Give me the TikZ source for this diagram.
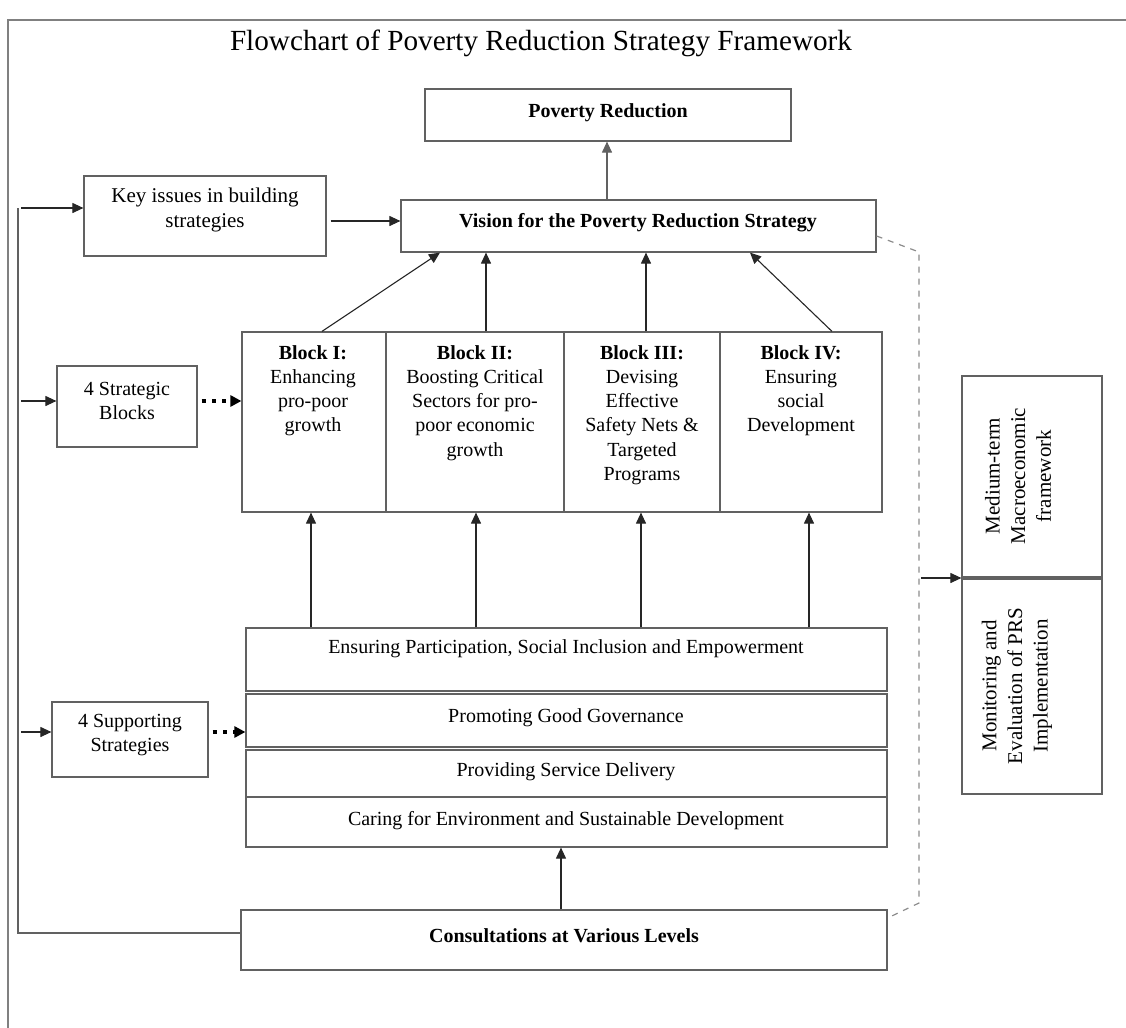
\documentclass[tikz,border=0pt]{standalone}
\usepackage{fontspec}
\setmainfont{Liberation Serif}
\usetikzlibrary{arrows.meta,fit,calc}
\definecolor{boxgray}{rgb}{0.38,0.38,0.38}
\definecolor{framegray}{rgb}{0.5,0.5,0.5}
\definecolor{dashgray}{rgb}{0.55,0.55,0.55}

\begin{document}
\begin{tikzpicture}[x=0.5pt,y=-0.5pt,
  box/.style={draw=boxgray, line width=0.6pt, inner sep=0pt},
  txt/.style={font=\fontsize{10}{12.1}\selectfont, align=center, inner sep=0pt},
  btxt/.style={txt, font=\fontsize{10}{12.1}\selectfont\bfseries},
  rtxt/.style={font=\fontsize{10.5}{12.8}\selectfont, align=center, inner sep=0pt, rotate=90},
  arr/.style={draw=black!85, line width=0.55pt, -{Triangle[length=5.5pt,width=5pt]}},
  dotarr/.style={line width=2pt, dash pattern=on 2pt off 3.2pt, -{Triangle[length=5.5pt,width=5.5pt]}},
  link/.style={draw=boxgray, line width=0.6pt},
  dashlink/.style={draw=dashgray, line width=0.6pt, dash pattern=on 3pt off 3pt},
]
\useasboundingbox (0,0) rectangle (1126,1028);

% page frame
\draw[framegray, line width=1pt] (8,1028) -- (8,20) -- (1126,20);

% title
\node[font=\fontsize{14.6}{17}\selectfont, inner sep=0pt] (title) at (541,43)
  {Flowchart of Poverty Reduction Strategy Framework};

% top boxes
\node[box, fit={(425,89) (791,141)}] (pr) {};
\node[btxt] (prt) at (608,113) {Poverty Reduction};
\node[box, fit={(401,200) (876,252)}] (vis) {};
\node[btxt] (vist) at (638,223) {Vision for the Poverty Reduction Strategy};
\node[box, fit={(84,176) (326,256)}] (key) {};
\node[txt, font=\fontsize{10.5}{12.1}\selectfont] (keyt) at (205,210) {Key issues in building\\strategies};

% strategic blocks
\node[box, fit={(57,366) (197,447)}] (sb) {};
\node[txt] (sbt) at (127,401) {4 Strategic\\Blocks};
\node[box, fit={(242,332) (386,512)}] (b1) {};
\node[box, fit={(386,332) (564,512)}] (b2) {};
\node[box, fit={(564,332) (720,512)}] (b3) {};
\node[box, fit={(720,332) (882,512)}] (b4) {};
\node[txt, anchor=north] (b1t) at (313,345) {\textbf{Block I:}\\Enhancing\\pro-poor\\growth};
\node[txt, anchor=north] (b2t) at (475,345) {\textbf{Block II:}\\Boosting Critical\\Sectors for pro-\\poor economic\\growth};
\node[txt, anchor=north] (b3t) at (642,345) {\textbf{Block III:}\\Devising\\Effective\\Safety Nets \&\\Targeted\\Programs};
\node[txt, anchor=north] (b4t) at (801,345) {\textbf{Block IV:}\\Ensuring\\social\\Development};

% supporting strategies
\node[box, fit={(52,702) (208,777)}] (ss) {};
\node[txt] (sst) at (130,735) {4 Supporting\\Strategies};
\node[box, fit={(246,628) (887,691)}] (s1) {};
\node[box, fit={(246,694) (887,747)}] (s2) {};
\node[box, fit={(246,750) (887,797)}] (s3) {};
\node[box, fit={(246,797) (887,847)}] (s4) {};
\node[txt] (s1t) at (566,649) {Ensuring Participation, Social Inclusion and Empowerment};
\node[txt] (s2t) at (566,718) {Promoting Good Governance};
\node[txt] (s3t) at (566,772) {Providing Service Delivery};
\node[txt] (s4t) at (566,821) {Caring for Environment and Sustainable Development};

% consultations
\node[box, fit={(241,910) (887,970)}] (cons) {};
\node[btxt] (const) at (564,936) {Consultations at Various Levels};

% side boxes
\node[box, fit={(962,376) (1102,577)}] (mt) {};
\node[box, fit={(962,579) (1102,794)}] (me) {};
\node[rtxt] (mtt) at (1018,476) {Medium-term\\Macroeconomic\\framework};
\node[rtxt] (met) at (1017,686) {Monitoring and\\Evaluation of PRS\\Implementation};

% upward flow
\draw[arr, draw=boxgray] (vis.north -| 607,0) -- (pr.south -| 607,0);
\draw[arr] (key.east |- 0,221) ++(4,0) -- (vis.west |- 0,221);
\draw[arr] (322,0 |- b1.north) -- (440,0 |- vis.south);
\draw[arr] (486,0 |- b2.north) -- (486,0 |- vis.south);
\draw[arr] (646,0 |- b3.north) -- (646,0 |- vis.south);
\draw[arr] (832,0 |- b4.north) -- (750,0 |- vis.south);
\draw[arr] (311,0 |- s1.north) -- (311,0 |- b1.south);
\draw[arr] (476,0 |- s1.north) -- (476,0 |- b2.south);
\draw[arr] (641,0 |- s1.north) -- (641,0 |- b3.south);
\draw[arr] (809,0 |- s1.north) -- (809,0 |- b4.south);
\draw[arr] (561,0 |- cons.north) -- (561,0 |- s4.south);

% feedback line on the left
\coordinate (lt) at (18,208);
\coordinate (lb) at (18,933);
\draw[link] (lt) -- (lb) -- (cons.west |- lb);
\draw[arr] (lt) ++(3,0) -- (key.west |- lt);
\draw[arr] (21,401) -- (sb.west |- 0,401);
\draw[arr] (21,732) -- (ss.west |- 0,732);
\draw[dotarr] (sb.east |- 0,401) ++(4,0) -- (b1.west |- 0,401);
\draw[dotarr] (ss.east |- 0,732) ++(4,0) -- (s2.west |- 0,732);

% dashed link on the right
\coordinate (rt) at (919,252);
\coordinate (rb) at (919,903);
\draw[dashlink] (vis.east |- 0,236) -- (rt) -- (rb) -- (cons.east |- 0,918);
\draw[arr] (921,578) -- (mt.west |- 0,578);
\end{tikzpicture}
\end{document}
